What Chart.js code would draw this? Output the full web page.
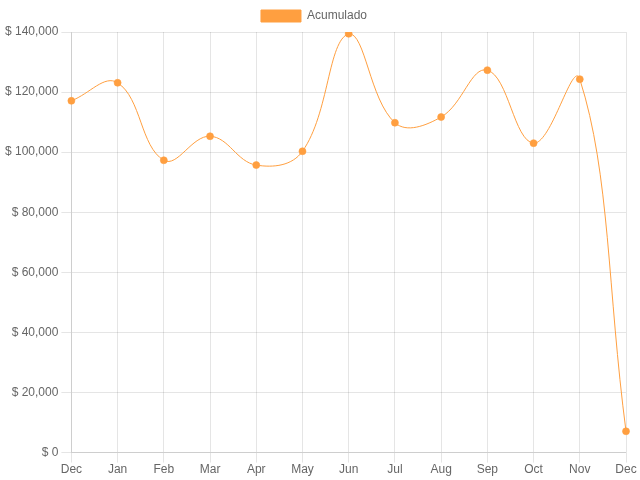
<!DOCTYPE html>
<html>
<head>
<meta charset="utf-8">
<script src="https://cdn.jsdelivr.net/npm/chart.js@4/dist/chart.umd.min.js"></script>
<style>
    html, body { margin: 0; padding: 0; background: #fff; }
    #wrap { width: 640px; height: 480px; }
</style>
</head>
<body>
<div id="wrap"><canvas id="chart"></canvas></div>
<script>
// Data
const months = ['Dec', 'Jan', 'Feb', 'Mar', 'Apr', 'May', 'Jun', 'Jul', 'Aug', 'Sep', 'Oct', 'Nov', 'Dec'];
const acumulado = [117100, 123100, 97300, 105300, 95700, 100300, 139400, 109800, 111700, 127300, 103000, 124300, 7100];
const seriesLabel = 'Acumulado';

const orange = 'rgb(255, 159, 64)';

Chart.defaults.font.family = "'Liberation Sans', 'Helvetica', 'Arial', sans-serif";
Chart.defaults.font.size = 12;
Chart.defaults.color = '#666';

const ctx = document.getElementById('chart').getContext('2d');
new Chart(ctx, {
    type: 'line',
    data: {
        labels: months,
        datasets: [{
            label: seriesLabel,
            data: acumulado,
            borderColor: orange,
            backgroundColor: orange,
            borderWidth: 1,
            fill: false,
            tension: 0.4,
            pointRadius: 3.5,
            pointBorderWidth: 1,
            pointBackgroundColor: orange,
            pointBorderColor: 'rgba(255, 159, 64, 0.6)'
        }]
    },
    options: {
        responsive: true,
        maintainAspectRatio: false,
        animation: false,
        layout: { padding: { left: 2, right: 14, bottom: 3 } },
        plugins: {
            legend: {
                labels: { boxWidth: 40, boxHeight: 12 }
            },
            tooltip: { enabled: false }
        },
        scales: {
            x: {
                grid: { color: 'rgba(0, 0, 0, 0.1)', tickLength: 10 },
                ticks: { maxRotation: 0, padding: 0 }
            },
            y: {
                min: 0,
                max: 140000,
                grid: { color: 'rgba(0, 0, 0, 0.1)', tickLength: 10 },
                ticks: {
                    stepSize: 20000,
                    callback: (v) => '$ ' + v.toLocaleString('en-US')
                }
            }
        }
    }
});
</script>
</body>
</html>
